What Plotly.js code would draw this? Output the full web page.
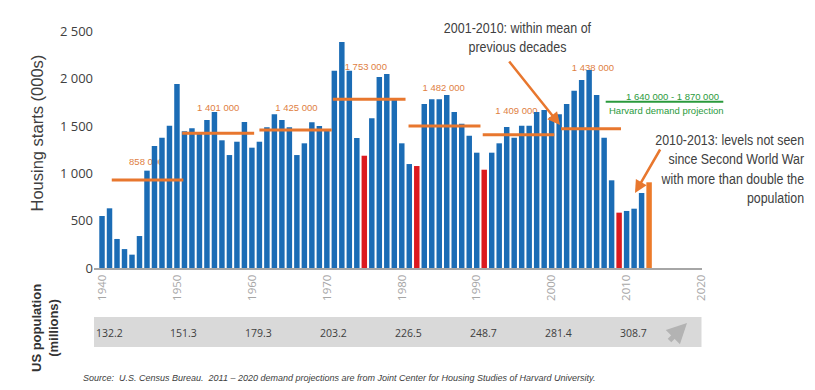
<!DOCTYPE html>
<html>
<head>
<meta charset="utf-8">
<script src="https://cdn.plot.ly/plotly-3.0.1.min.js"></script>
<style>html,body{margin:0;padding:0;background:#fff;}#chart{width:815px;height:390px;}</style>
</head>
<body>
<div id="chart"></div>
<script>
// ---- data ----
const years = [1940,1941,1942,1943,1944,1945,1946,1947,1948,1949,
  1950,1951,1952,1953,1954,1955,1956,1957,1958,1959,
  1960,1961,1962,1963,1964,1965,1966,1967,1968,1969,
  1970,1971,1972,1973,1974,1975,1976,1977,1978,1979,
  1980,1981,1982,1983,1984,1985,1986,1987,1988,1989,
  1990,1991,1992,1993,1994,1995,1996,1997,1998,1999,
  2000,2001,2002,2003,2004,2005,2006,2007,2008,2009,
  2010,2011,2012,2013];
const starts = [550,631,307,200,141,338,1029,1290,1377,1504,
  1945,1445,1477,1420,1564,1649,1350,1194,1335,1543,
  1272,1335,1487,1625,1564,1487,1194,1318,1540,1501,
  1448,2086,2389,2086,1374,1187,1582,2019,2051,1776,
  1318,1099,1078,1734,1783,1783,1829,1649,1526,1399,
  1219,1039,1219,1318,1490,1377,1504,1504,1649,1670,
  1593,1625,1734,1875,1987,2093,1829,1377,927,585,
  603,627,793,906];
const lowYears = [1975,1982,1991,2009];
const projectionYear = 2013;

const meanLabels = ["858 000","1 401 000","1 425 000","1 753 000","1 482 000","1 409 000","1 438 000"];
const meanLevel  = [930,1424,1459,1783,1501,1409,1473];
const meanFrom   = [1941.3,1950.7,1961.0,1970.8,1980.9,1990.8,2001.25];
const meanTo     = [1950.85,1960.3,1970.65,1980.5,1990.5,2000.35,2009.25];
const meanLabelX = [1945.9,1955.5,1965.95,1975.2,1985.6,1995.3,2005.5];
const meanLabelY = [1133,1705,1705,2132,1917,1666,2129];

const demandRange = "1 640 000 - 1 870 000";
const demandLabel = "Harvard demand projection";

const decadeTicks = [1940,1950,1960,1970,1980,1990,2000,2010,2020];
const popYears = [1940,1950,1960,1970,1980,1990,2000,2010];
const population = ["132.2","151.3","179.3","203.2","226.5","248.7","281.4","308.7"];

const yTickVals = [0,500,1000,1500,2000,2500];
const yTickText = ["0","500","1 000","1 500","2 000","2 500"];

// ---- styling ----
const BLUE = "#1b6cb5", RED = "#dc1a1f", ORANGE = "#ec7a2a", MEAN = "#e8772e", LABEL = "#e0803f", GREEN = "#2a9a3c";
const barColors = years.map(y => y === projectionYear ? ORANGE : (lowYears.includes(y) ? RED : BLUE));

const ML = 94, MR = 113, MT = 23, MB = 122, W = 815, H = 390;
const PW = W - ML - MR, PH = H - MT - MB;
const px = p => (p - ML) / PW;       // pixel -> paper x
const py = p => (H - MB - p) / PH;   // pixel -> paper y

const shapes = [];
for (let i = 0; i < meanLevel.length; i++) {
  shapes.push({type:"line", xref:"x", yref:"y", x0:meanFrom[i], x1:meanTo[i], y0:meanLevel[i], y1:meanLevel[i],
    line:{color:MEAN, width:3}, layer:"above"});
  shapes.push({type:"rect", xref:"x", yref:"y", x0:meanLabelX[i]-3, x1:meanLabelX[i]+3,
    y0:meanLabelY[i]-60, y1:meanLabelY[i]+60, line:{width:0}, fillcolor:"rgba(0,0,0,0)", layer:"below",
    label:{text:meanLabels[i], textposition:"middle center", font:{family:"Liberation Sans, Arial, sans-serif", size:9.5, color:LABEL}}});
}
shapes.push({type:"line", xref:"paper", yref:"paper", x0:px(605.7), x1:px(723.3), y0:py(101.7), y1:py(101.7),
  line:{color:GREEN, width:2}});
shapes.push({type:"rect", xref:"paper", yref:"paper", x0:px(94), x1:px(701.5), y0:py(347), y1:py(317),
  line:{width:0}, fillcolor:"#d9d9d9", layer:"below"});

const annotations = [];
popYears.forEach((yr, i) => annotations.push({xref:"x", yref:"paper", x:yr, y:py(333), xshift:7,
  text:population[i], showarrow:false, xanchor:"center", yanchor:"middle",
  font:{family:"Open Sans, sans-serif", size:10.5, color:"#404040"}}));
annotations.push({xref:"paper", yref:"paper", x:px(687), y:py(323), ax:-19, ay:19, text:"", showarrow:true,
  arrowhead:2, arrowsize:0.8, arrowwidth:5, arrowcolor:"#b3b3b3"});
annotations.push({xref:"paper", yref:"paper", x:px(672), y:py(96), text:demandRange, showarrow:false,
  xanchor:"center", yanchor:"middle", font:{family:"Liberation Sans, Arial, sans-serif", size:9.5, color:GREEN}});
annotations.push({xref:"paper", yref:"paper", x:px(666), y:py(110), text:demandLabel, showarrow:false,
  xanchor:"center", yanchor:"middle", font:{family:"Liberation Sans, Arial, sans-serif", size:9.5, color:GREEN}});
const CALLOUT = "Liberation Sans, Arial, sans-serif";
const condense = {};  // annotation index -> [target width px, anchor]
condense[annotations.length] = [148, "center"];
annotations.push({xref:"paper", yref:"paper", x:px(518), y:py(38), text:"2001-2010: within mean of<br>previous decades",
  showarrow:false, xanchor:"center", yanchor:"middle", align:"center", font:{family:CALLOUT, size:15, color:"#404040"}});
condense[annotations.length] = [149, "right"];
annotations.push({xref:"paper", yref:"paper", x:px(806), y:py(168.5),
  text:"2010-2013: levels not seen<br>since Second World War<br>with more than double the<br>population",
  showarrow:false, xanchor:"right", yanchor:"middle", align:"right", font:{family:CALLOUT, size:15, color:"#404040"}});
annotations.push({xref:"paper", yref:"paper", x:px(560), y:py(125), ax:-52, ay:-65, text:"", showarrow:true,
  arrowhead:2, arrowsize:1, arrowwidth:2.5, arrowcolor:MEAN});
annotations.push({xref:"paper", yref:"paper", x:px(635), y:py(193), ax:26, ay:-45, text:"", showarrow:true,
  arrowhead:2, arrowsize:1, arrowwidth:2.5, arrowcolor:MEAN});
annotations.push({xref:"paper", yref:"paper", x:px(36), y:py(133.5), text:"Housing starts (000s)", textangle:-90,
  showarrow:false, xanchor:"center", yanchor:"middle", font:{family:"Liberation Sans, Arial, sans-serif", size:16.5, color:"#404040"}});
annotations.push({xref:"paper", yref:"paper", x:px(45), y:py(328), text:"US population<br>(millions)", textangle:-90,
  showarrow:false, xanchor:"center", yanchor:"middle", align:"center",
  font:{family:"Liberation Sans, Arial, sans-serif", size:13, color:"#333333", weight:"bold"}});
annotations.push({xref:"paper", yref:"paper", x:px(81), y:py(378), text:"<i>Source:  U.S. Census Bureau.  2011 – 2020 demand projections are from Joint Center for Housing Studies of Harvard University.</i>",
  showarrow:false, xanchor:"left", yanchor:"middle", font:{family:"Liberation Sans, Arial, sans-serif", size:9, color:"#404040"}});

const data = [{type:"bar", x:years, y:starts, marker:{color:barColors, line:{width:0}}, hoverinfo:"x+y"}];

const layout = {
  width:W, height:H, margin:{l:ML, r:MR, t:MT, b:MB, pad:0},
  paper_bgcolor:"#fff", plot_bgcolor:"#fff", showlegend:false, bargap:0.27,
  font:{family:"Open Sans, sans-serif"},
  xaxis:{range:[1938.93, 2020.06], tickvals:decadeTicks, ticktext:decadeTicks.map(String), tickangle:-90,
    showgrid:false, zeroline:false, showline:true, linecolor:"#a6a6a6", linewidth:2, ticks:"",
    tickfont:{family:"Open Sans, sans-serif", size:11.5, color:"#a6a6a6"}, fixedrange:true},
  yaxis:{range:[0,2590], tickvals:yTickVals, ticktext:yTickText, showgrid:false, zeroline:false, showline:false,
    ticks:"", tickfont:{family:"Open Sans, sans-serif", size:13, color:"#404040"}, fixedrange:true},
  shapes:shapes, annotations:annotations
};
Plotly.newPlot("chart", data, layout, {displayModeBar:false, staticPlot:true}).then(gd => {
  // emulate the condensed typeface of the callouts by narrowing them horizontally
  gd.querySelectorAll("g.annotation").forEach(g => {
    const spec = condense[g.getAttribute("data-index")];
    if (!spec) return;
    const t = g.querySelector("text.annotation-text");
    if (!t) return;
    const bb = t.getBBox();
    const s = spec[0] / bb.width;
    const ax = spec[1] === "right" ? bb.x + bb.width : bb.x + bb.width / 2;
    t.setAttribute("transform", `translate(${ax},0) scale(${s},1) translate(${-ax},0)`);
  });
});
</script>
</body>
</html>
